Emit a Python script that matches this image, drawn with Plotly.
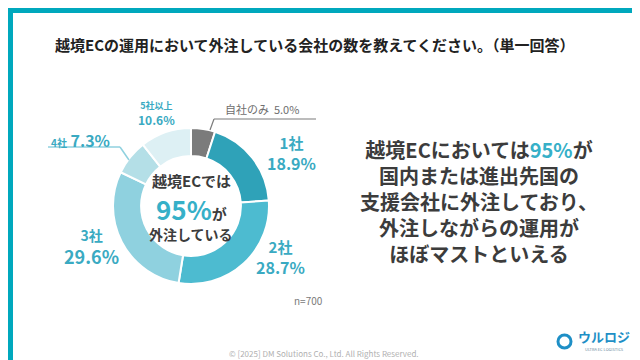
import plotly.graph_objects as go

W, H = 640, 360
categories = ["自社のみ", "1社", "2社", "3社", "4社", "5社以上"]
values = [5.0, 18.9, 28.7, 29.6, 7.3, 10.6]
colors = ["#7b7b7b", "#2fa2b8", "#4dbbd0", "#8fd1df", "#b4dfe7", "#ddf0f4"]
title = "越境ECの運用において外注している会社の数を教えてください。（単一回答）"
n_text = "n=700"

FONT = "Noto Sans CJK JP"
TEAL = "#00a8bd"
DARK = "#3c3c3c"
LBL = "#3aaac2"

def px(x):
    return x / W

def py(y):
    return 1 - y / H

fig = go.Figure()
fig.add_trace(go.Pie(
    labels=categories, values=values, sort=False, direction="clockwise",
    rotation=0, hole=0.64, textinfo="none", hoverinfo="label+percent",
    marker=dict(colors=colors, line=dict(color="white", width=2)),
    domain=dict(x=[px(105), px(261)], y=[py(276), py(120)]),
    showlegend=False,
))

ann = []
def t(x, y, text, size, color=DARK, bold=True, xanchor="center"):
    ann.append(dict(x=px(x), y=py(y), xref="paper", yref="paper", text=(f"<b>{text}</b>" if bold else text),
                    showarrow=False, xanchor=xanchor, yanchor="middle", borderpad=0,
                    font=dict(family=FONT, size=size, color=color)))

def two(x, y, top, bottom, s1, s2, color=LBL):
    t(x, y, f"<span style='font-size:{s1}px'>{top}</span><br>{bottom}", s2, color)

# title
t(306, 37, title, 15, "#222222")

# slice labels
fmt = lambda v: f"{v:.1f}%"
t(216, 101, f"{categories[0]}  {fmt(values[0])}", 11, "#6e6e6e", bold=False, xanchor="left")
two(283, 145, categories[1], fmt(values[1]), 15, 16)
two(272, 249, categories[2], fmt(values[2]), 15, 16)
two(83, 239, categories[3], fmt(values[3]), 14, 18)
t(42, 132, f"<span style='font-size:10px'>{categories[4]}</span> {fmt(values[4])}", 16, LBL, xanchor="left")
two(148, 105, categories[5], fmt(values[5]), 9, 12)
t(300, 292, n_text, 10, "#7a7a7a", bold=False)

# center text
t(183, 172, "越境ECでは", 15, DARK)
ann.append(dict(x=px(183), y=py(200), xref="paper", yref="paper", showarrow=False, borderpad=0,
                text="<b><span style='font-size:26px;color:#36b0c8'>95%</span><span style='font-size:15px;color:#3c3c3c'>が</span></b>",
                font=dict(family=FONT, size=15, color=DARK), xanchor="center", yanchor="middle"))
t(183, 226, "外注している", 14, DARK)

# right message
msg = ("越境ECにおいては<span style='color:#36b0c8'>95%</span>が<br>国内または進出先国の<br>"
       "支援会社に外注しており、<br>外注しながらの運用が<br>ほぼマストといえる")
t(471, 193, msg, 20, DARK)

# footer
t(316, 345, "© [2025] DM Solutions Co., Ltd. All Rights Reserved.", 8, "#b0b0b0", bold=False)
# logo text
t(596, 328, "ウルロジ", 13, "#1e8fc6")
t(596, 341, "ULTRA EC LOGISTICS", 4, "#6a8aa0", bold=False)

shapes = []
def line(x0, y0, x1, y1, color, w=1.2):
    shapes.append(dict(type="line", xref="paper", yref="paper", x0=px(x0), y0=py(y0), x1=px(x1), y1=py(y1),
                       line=dict(color=color, width=w)))

# leader lines
line(202, 122, 206, 111, "#7b7b7b")
line(206, 111, 308, 111, "#7b7b7b")
line(40, 139, 112, 139, "#8fd1df", 1.5)
line(112, 139, 121, 152, "#8fd1df", 1.5)

# frame border
for (x0, y0, x1, y1) in [(0, 0, 640, 5), (0, 0, 5, 360), (633, 0, 640, 360), (0, 353, 640, 360)]:
    shapes.append(dict(type="rect", xref="paper", yref="paper", x0=px(x0), y0=py(y1), x1=px(x1), y1=py(y0),
                       fillcolor=TEAL, line=dict(width=0), layer="above"))

# logo icon
shapes.append(dict(type="circle", xref="paper", yref="paper", x0=px(550), y0=py(340), x1=px(563), y1=py(327),
                   line=dict(color="#1e8fc6", width=3)))

fig.update_layout(
    width=W, height=H, margin=dict(l=0, r=0, t=0, b=0),
    paper_bgcolor="white", plot_bgcolor="white",
    annotations=ann, shapes=shapes,
    font=dict(family=FONT),
)
fig.write_html("out.html")
